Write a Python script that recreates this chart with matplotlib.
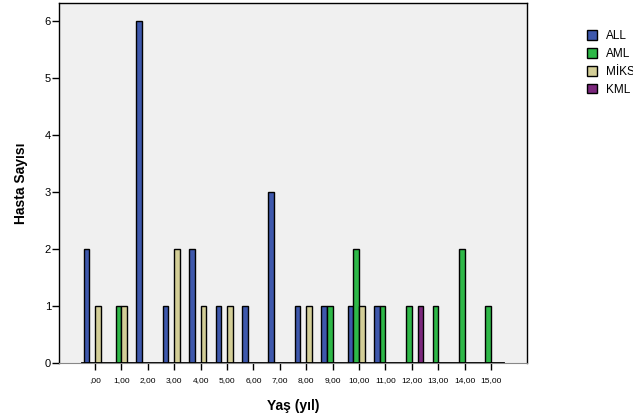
import matplotlib
matplotlib.use("Agg")
import matplotlib.pyplot as plt
import numpy as np

plt.rcParams['font.family'] = ['Liberation Sans', 'DejaVu Sans']

ages = np.arange(16)
age_labels = [",00", "1,00", "2,00", "3,00", "4,00", "5,00", "6,00", "7,00",
              "8,00", "9,00", "10,00", "11,00", "12,00", "13,00", "14,00", "15,00"]

all_counts = [2, 0, 6, 1, 2, 1, 1, 3, 1, 1, 1, 1, 0, 0, 0, 0]
aml_counts = [0, 1, 0, 0, 0, 0, 0, 0, 0, 1, 2, 1, 1, 1, 2, 1]
miks_counts = [1, 1, 0, 2, 1, 1, 0, 0, 1, 0, 1, 0, 0, 0, 0, 0]
kml_counts = [0, 0, 0, 0, 0, 0, 0, 0, 0, 0, 0, 0, 1, 0, 0, 0]

series = [("ALL", all_counts, "#3E58AC"),
          ("AML", aml_counts, "#2EB848"),
          ("MİKS", miks_counts, "#D3CE97"),
          ("KML", kml_counts, "#7C287D")]

fig = plt.figure(figsize=(6.33, 4.19), dpi=100)
ax = fig.add_axes([0.0937, 0.1344, 0.7383, 0.8576])
ax.set_facecolor("#F0F0F0")

w = 0.216
offsets = [-1.5 * w, -0.5 * w, 0.5 * w, 1.5 * w]
handles = []
for (name, vals, col), off in zip(series, offsets):
    vals = np.array(vals)
    keep = vals > 0
    ax.bar(ages[keep] + off, vals[keep], width=w, color=col,
           edgecolor="black", linewidth=1.0, zorder=3)
    handles.append(plt.Rectangle((0, 0), 1, 1, facecolor=col,
                                 edgecolor="black", linewidth=1.0))

# baseline
ax.plot([-0.5, 15.5], [0, 0], color="black", lw=1.3, zorder=4)

ax.set_xlim(-1.35, 16.35)
ax.set_ylim(0, 6.31)
ax.set_xticks(ages)
ax.set_xticklabels(age_labels, fontsize=6)
ax.set_yticks(range(7))
ax.tick_params(axis="y", labelsize=8, length=5, width=1, direction="out", pad=1)
ax.tick_params(axis="x", length=5, width=1, direction="out", pad=5)

for s in ["left", "top", "right"]:
    ax.spines[s].set_color("black")
    ax.spines[s].set_linewidth(1)
ax.spines["bottom"].set_color("#888888")
ax.spines["bottom"].set_linewidth(0.8)

ax.set_xlabel("Yaş (yıl)", fontsize=10, fontweight="bold", labelpad=11)
ax.set_ylabel("Hasta Sayısı", fontsize=10, fontweight="bold", labelpad=12)

fig.legend(handles, [s[0] for s in series], loc="upper left",
           bbox_to_anchor=(0.928, 0.928), frameon=False, fontsize=8.5,
           handlelength=0.85, handleheight=0.85, handletextpad=0.7,
           labelspacing=0.5, borderaxespad=0, borderpad=0)

fig.savefig("out.png", dpi=100)
